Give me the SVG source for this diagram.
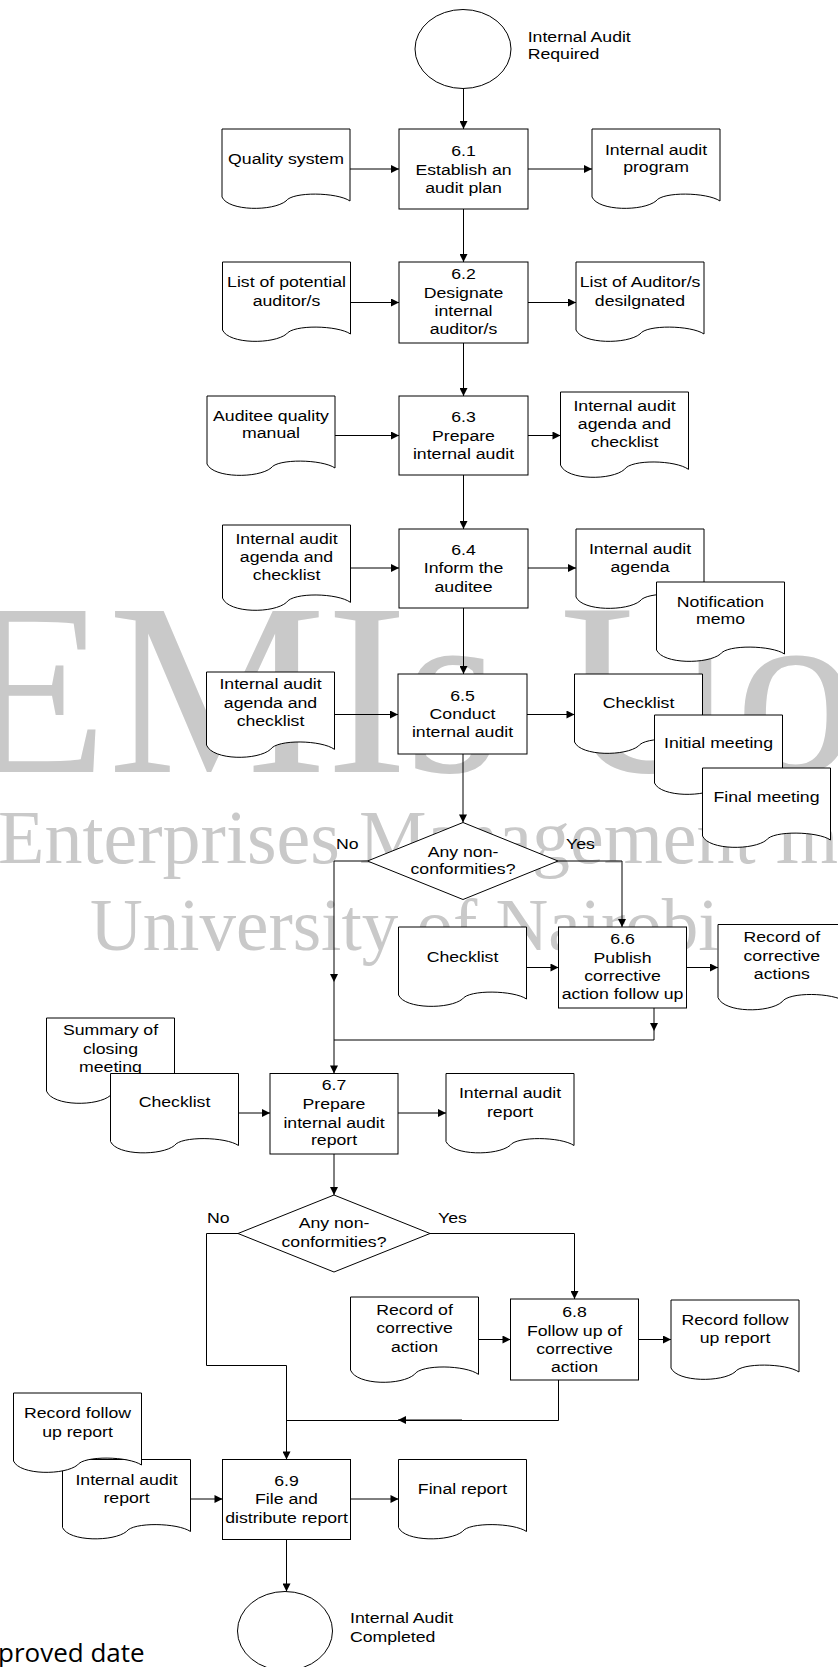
<svg xmlns="http://www.w3.org/2000/svg" width="838" height="1667" viewBox="0 0 838 1667">
<style>
.s{fill:#fff;stroke:#000;stroke-width:1}
.c{fill:none;stroke:#000;stroke-width:1}
.t{font-family:"Liberation Sans",Arial,sans-serif;font-size:15.5px;fill:#000;text-anchor:middle}
.l{font-family:"Liberation Sans",Arial,sans-serif;font-size:15.5px;fill:#000;text-anchor:start}
.wm{font-family:"Liberation Serif","Times New Roman",serif;fill:#c9c9c9}
.ft{font-family:"Open Sans","Noto Sans",sans-serif;font-size:26px;fill:#000}
</style>
<defs>
<marker id="a" viewBox="0 0 10 10" refX="10" refY="5" markerWidth="9" markerHeight="8" markerUnits="userSpaceOnUse" orient="auto"><path d="M0,0 L10,5 L0,10 z" fill="#000"/></marker>
</defs>
<rect width="838" height="1667" fill="#fff"/>
<g id="watermark">
<text class="wm" font-size="245" y="772" x="-42 108 326 405 500 560 735">EMIs Uo</text>
<text class="wm" font-size="76" x="-2" y="863">Enterprises Management In</text>
<text class="wm" font-size="73" x="90" y="950">University of Nairobi</text>
</g>
<text class="ft" x="-2" y="1662">proved date</text>

<g id="connectors">
<path class="c" marker-end="url(#a)" d="M463.5,88.5 V129"/>
<path class="c" marker-end="url(#a)" d="M463.5,209 V262"/>
<path class="c" marker-end="url(#a)" d="M463.5,343 V396"/>
<path class="c" marker-end="url(#a)" d="M463.5,475 V529"/>
<path class="c" marker-end="url(#a)" d="M463.5,608 V674"/>
<path class="c" marker-end="url(#a)" d="M463,754 V822.5"/>
<path class="c" marker-end="url(#a)" d="M350,169 H399"/>
<path class="c" marker-end="url(#a)" d="M528,169 H592"/>
<path class="c" marker-end="url(#a)" d="M350.5,302.5 H399"/>
<path class="c" marker-end="url(#a)" d="M528,302.5 H576"/>
<path class="c" marker-end="url(#a)" d="M335,435.5 H399"/>
<path class="c" marker-end="url(#a)" d="M528,435.5 H560.5"/>
<path class="c" marker-end="url(#a)" d="M350.5,568 H399"/>
<path class="c" marker-end="url(#a)" d="M528,568 H576"/>
<path class="c" marker-end="url(#a)" d="M334.5,714.5 H398"/>
<path class="c" marker-end="url(#a)" d="M527,714.5 H574.5"/>
<path class="c" marker-end="url(#a)" d="M367.5,861 H334 V982"/>
<path class="c" marker-end="url(#a)" d="M334,982 V1073.5"/>
<path class="c" marker-end="url(#a)" d="M558,861 H622 V927"/>
<path class="c" marker-end="url(#a)" d="M526.5,967.5 H558.5"/>
<path class="c" marker-end="url(#a)" d="M686.5,967.5 H718"/>
<path class="c" marker-end="url(#a)" d="M654,1008 V1031"/>
<path class="c" d="M654,1031 V1040 H334"/>
<path class="c" marker-end="url(#a)" d="M238.5,1113 H270"/>
<path class="c" marker-end="url(#a)" d="M398,1113 H446"/>
<path class="c" marker-end="url(#a)" d="M334,1154 V1195"/>
<path class="c" marker-end="url(#a)" d="M238,1233.5 H206.5 V1365.5 H286.5 V1459.5"/>
<path class="c" marker-end="url(#a)" d="M430,1233.5 H574.5 V1299"/>
<path class="c" marker-end="url(#a)" d="M478.5,1339.5 H510.5"/>
<path class="c" marker-end="url(#a)" d="M638.5,1339.5 H671"/>
<path class="c" d="M558.5,1380 V1420.5 H286.5"/>
<path class="c" marker-end="url(#a)" d="M462,1420 H398"/>
<path class="c" marker-end="url(#a)" d="M190.5,1499 H222.5"/>
<path class="c" marker-end="url(#a)" d="M350.5,1499 H398.5"/>
<path class="c" marker-end="url(#a)" d="M286.5,1539.5 V1591.5"/>
</g>

<g id="start">
<ellipse class="s" cx="463" cy="49" rx="48" ry="39.5"/>
<g transform="translate(527.7,0) scale(1.14,1)"><text class="l" x="0" y="41.7">Internal Audit<tspan x="0" y="59.3">Required</tspan></text></g>
</g>

<g id="p61">
<rect class="s" x="399" y="129" width="129" height="80"/>
<g transform="translate(463.5,0) scale(1.14,1)"><text class="t" x="0" y="156">6.1<tspan x="0" y="175">Establish an</tspan><tspan x="0" y="193.5">audit plan</tspan></text></g>
</g>
<g id="doc_qs">
<path class="s" d="M222,129 h128 v72 c-12.8,-8.8 -57.6,-9.6 -64,0 c-12.8,10.4 -57.6,10.4 -64,-4 z"/>
<g transform="translate(286,0) scale(1.14,1)"><text class="t" x="0" y="164">Quality system</text></g>
</g>
<g id="doc_prog">
<path class="s" d="M592,129 h128 v72 c-12.8,-8.8 -57.6,-9.6 -64,0 c-12.8,10.4 -57.6,10.4 -64,-4 z"/>
<g transform="translate(656,0) scale(1.14,1)"><text class="t" x="0" y="155">Internal audit<tspan x="0" y="172.5">program</tspan></text></g>
</g>

<g id="p62">
<rect class="s" x="399" y="262" width="129" height="81"/>
<g transform="translate(463.5,0) scale(1.14,1)"><text class="t" x="0" y="279.3">6.2<tspan x="0" y="297.7">Designate</tspan><tspan x="0" y="316">internal</tspan><tspan x="0" y="334.3">auditor/s</tspan></text></g>
</g>
<g id="doc_lpa">
<path class="s" d="M222.5,262 h128 v72 c-12.8,-8.8 -57.6,-9.6 -64,0 c-12.8,10.4 -57.6,10.4 -64,-4 z"/>
<g transform="translate(286.5,0) scale(1.14,1)"><text class="t" x="0" y="287.3">List of potential<tspan x="0" y="305.7">auditor/s</tspan></text></g>
</g>
<g id="doc_lad">
<path class="s" d="M576,262 h128 v72 c-12.8,-8.8 -57.6,-9.6 -64,0 c-12.8,10.4 -57.6,10.4 -64,-4 z"/>
<g transform="translate(640,0) scale(1.14,1)"><text class="t" x="0" y="287.3">List of Auditor/s<tspan x="0" y="305.7">desilgnated</tspan></text></g>
</g>

<g id="p63">
<rect class="s" x="399" y="396" width="129" height="79"/>
<g transform="translate(463.5,0) scale(1.14,1)"><text class="t" x="0" y="421.7">6.3<tspan x="0" y="440.7">Prepare</tspan><tspan x="0" y="458.7">internal audit</tspan></text></g>
</g>
<g id="doc_aqm">
<path class="s" d="M207,396 h128 v72 c-12.8,-8.8 -57.6,-9.6 -64,0 c-12.8,10.4 -57.6,10.4 -64,-4 z"/>
<g transform="translate(271,0) scale(1.14,1)"><text class="t" x="0" y="420.7">Auditee quality<tspan x="0" y="438.3">manual</tspan></text></g>
</g>
<g id="doc_iaac3">
<path class="s" d="M560.5,392 h128 v77.4 c-12.8,-9.46 -57.6,-10.32 -64,0 c-12.8,11.18 -57.6,11.18 -64,-4.3 z"/>
<g transform="translate(624.5,0) scale(1.14,1)"><text class="t" x="0" y="410.7">Internal audit<tspan x="0" y="428.7">agenda and</tspan><tspan x="0" y="447">checklist</tspan></text></g>
</g>

<g id="p64">
<rect class="s" x="399" y="529" width="129" height="79"/>
<g transform="translate(463.5,0) scale(1.14,1)"><text class="t" x="0" y="554.7">6.4<tspan x="0" y="573.3">Inform the</tspan><tspan x="0" y="591.7">auditee</tspan></text></g>
</g>
<g id="doc_iaac4">
<path class="s" d="M222.5,525 h128 v77.4 c-12.8,-9.46 -57.6,-10.32 -64,0 c-12.8,11.18 -57.6,11.18 -64,-4.3 z"/>
<g transform="translate(286.5,0) scale(1.14,1)"><text class="t" x="0" y="544">Internal audit<tspan x="0" y="562">agenda and</tspan><tspan x="0" y="580">checklist</tspan></text></g>
</g>
<g id="doc_iaa">
<path class="s" d="M576,529 h128 v72 c-12.8,-8.8 -57.6,-9.6 -64,0 c-12.8,10.4 -57.6,10.4 -64,-4 z"/>
<g transform="translate(640,0) scale(1.14,1)"><text class="t" x="0" y="554">Internal audit<tspan x="0" y="571.7">agenda</tspan></text></g>
</g>
<g id="doc_memo">
<path class="s" d="M656.5,582 h128 v72 c-12.8,-8.8 -57.6,-9.6 -64,0 c-12.8,10.4 -57.6,10.4 -64,-4 z"/>
<g transform="translate(720.5,0) scale(1.14,1)"><text class="t" x="0" y="606.7">Notification<tspan x="0" y="624.3">memo</tspan></text></g>
</g>

<g id="p65">
<rect class="s" x="398" y="674" width="129" height="80"/>
<g transform="translate(462.5,0) scale(1.14,1)"><text class="t" x="0" y="700.7">6.5<tspan x="0" y="719.3">Conduct</tspan><tspan x="0" y="737.3">internal audit</tspan></text></g>
</g>
<g id="doc_iaac5">
<path class="s" d="M206.5,672 h128 v77.4 c-12.8,-9.46 -57.6,-10.32 -64,0 c-12.8,11.18 -57.6,11.18 -64,-4.3 z"/>
<g transform="translate(270.5,0) scale(1.14,1)"><text class="t" x="0" y="689.3">Internal audit<tspan x="0" y="708.3">agenda and</tspan><tspan x="0" y="726">checklist</tspan></text></g>
</g>
<g id="doc_chk5">
<path class="s" d="M574.5,674 h128 v72 c-12.8,-8.8 -57.6,-9.6 -64,0 c-12.8,10.4 -57.6,10.4 -64,-4 z"/>
<g transform="translate(638.5,0) scale(1.14,1)"><text class="t" x="0" y="708.3">Checklist</text></g>
</g>
<g id="doc_init">
<path class="s" d="M654.5,715 h128 v72 c-12.8,-8.8 -57.6,-9.6 -64,0 c-12.8,10.4 -57.6,10.4 -64,-4 z"/>
<g transform="translate(718.5,0) scale(1.14,1)"><text class="t" x="0" y="748.3">Initial meeting</text></g>
</g>
<g id="doc_final">
<path class="s" d="M702.5,768 h128 v72 c-12.8,-8.8 -57.6,-9.6 -64,0 c-12.8,10.4 -57.6,10.4 -64,-4 z"/>
<g transform="translate(766.5,0) scale(1.14,1)"><text class="t" x="0" y="801.7">Final meeting</text></g>
</g>

<g id="d1">
<path class="s" d="M463,822.5 L558,861 L463,899.5 L367.5,861 z"/>
<g transform="translate(463,0) scale(1.14,1)"><text class="t" x="0" y="856.7">Any non-<tspan x="0" y="874.3">conformities?</tspan></text></g>
<g transform="translate(336,0) scale(1.14,1)"><text class="l" x="0" y="849">No</text></g>
<g transform="translate(566,0) scale(1.14,1)"><text class="l" x="0" y="849">Yes</text></g>
</g>

<g id="p66">
<rect class="s" x="558.5" y="927" width="128" height="81"/>
<g transform="translate(622.5,0) scale(1.14,1)"><text class="t" x="0" y="944.3">6.6<tspan x="0" y="962.7">Publish</tspan><tspan x="0" y="981.3">corrective</tspan><tspan x="0" y="999.5">action follow up</tspan></text></g>
</g>
<g id="doc_chk6">
<path class="s" d="M398.5,927 h128 v72 c-12.8,-8.8 -57.6,-9.6 -64,0 c-12.8,10.4 -57.6,10.4 -64,-4 z"/>
<g transform="translate(462.5,0) scale(1.14,1)"><text class="t" x="0" y="961.7">Checklist</text></g>
</g>
<g id="doc_rca">
<path class="s" d="M718,924.5 h128 v77.4 c-12.8,-9.46 -57.6,-10.32 -64,0 c-12.8,11.18 -57.6,11.18 -64,-4.3 z"/>
<g transform="translate(781.8,0) scale(1.14,1)"><text class="t" x="0" y="942.3">Record of<tspan x="0" y="960.7">corrective</tspan><tspan x="0" y="979">actions</tspan></text></g>
</g>

<g id="doc_sum">
<path class="s" d="M46.5,1018 h128 v77.4 c-12.8,-9.46 -57.6,-10.32 -64,0 c-12.8,11.18 -57.6,11.18 -64,-4.3 z"/>
<g transform="translate(110.5,0) scale(1.14,1)"><text class="t" x="0" y="1035">Summary of<tspan x="0" y="1054">closing</tspan><tspan x="0" y="1072.3">meeting</tspan></text></g>
</g>
<g id="doc_chk7">
<path class="s" d="M110.5,1073.5 h128 v72 c-12.8,-8.8 -57.6,-9.6 -64,0 c-12.8,10.4 -57.6,10.4 -64,-4 z"/>
<g transform="translate(174.5,0) scale(1.14,1)"><text class="t" x="0" y="1107.3">Checklist</text></g>
</g>
<g id="p67">
<rect class="s" x="270" y="1073.5" width="128" height="80.5"/>
<g transform="translate(334,0) scale(1.14,1)"><text class="t" x="0" y="1090">6.7<tspan x="0" y="1109.3">Prepare</tspan><tspan x="0" y="1127.7">internal audit</tspan><tspan x="0" y="1145.5">report</tspan></text></g>
</g>
<g id="doc_iar7">
<path class="s" d="M446,1073.5 h128 v72 c-12.8,-8.8 -57.6,-9.6 -64,0 c-12.8,10.4 -57.6,10.4 -64,-4 z"/>
<g transform="translate(510,0) scale(1.14,1)"><text class="t" x="0" y="1098.3">Internal audit<tspan x="0" y="1116.7">report</tspan></text></g>
</g>

<g id="d2">
<path class="s" d="M334,1195 L430,1233.5 L334,1272 L238,1233.5 z"/>
<g transform="translate(334,0) scale(1.14,1)"><text class="t" x="0" y="1228.3">Any non-<tspan x="0" y="1247.3">conformities?</tspan></text></g>
<g transform="translate(207,0) scale(1.14,1)"><text class="l" x="0" y="1222.7">No</text></g>
<g transform="translate(438,0) scale(1.14,1)"><text class="l" x="0" y="1222.7">Yes</text></g>
</g>

<g id="p68">
<rect class="s" x="510.5" y="1299" width="128" height="81"/>
<g transform="translate(574.5,0) scale(1.14,1)"><text class="t" x="0" y="1316.7">6.8<tspan x="0" y="1335.7">Follow up of</tspan><tspan x="0" y="1354">corrective</tspan><tspan x="0" y="1371.7">action</tspan></text></g>
</g>
<g id="doc_rcact">
<path class="s" d="M350.5,1297 h128 v77.4 c-12.8,-9.46 -57.6,-10.32 -64,0 c-12.8,11.18 -57.6,11.18 -64,-4.3 z"/>
<g transform="translate(414.5,0) scale(1.14,1)"><text class="t" x="0" y="1315">Record of<tspan x="0" y="1333.3">corrective</tspan><tspan x="0" y="1351.7">action</tspan></text></g>
</g>
<g id="doc_rfu8">
<path class="s" d="M671,1300 h128 v72 c-12.8,-8.8 -57.6,-9.6 -64,0 c-12.8,10.4 -57.6,10.4 -64,-4 z"/>
<g transform="translate(735,0) scale(1.14,1)"><text class="t" x="0" y="1325">Record follow<tspan x="0" y="1343.3">up report</tspan></text></g>
</g>

<g id="doc_iar9">
<path class="s" d="M62.5,1459.5 h128 v72 c-12.8,-8.8 -57.6,-9.6 -64,0 c-12.8,10.4 -57.6,10.4 -64,-4 z"/>
<g transform="translate(126.5,0) scale(1.14,1)"><text class="t" x="0" y="1485">Internal audit<tspan x="0" y="1503.3">report</tspan></text></g>
</g>
<g id="doc_rfu9">
<path class="s" d="M13.5,1393 h128 v72 c-12.8,-8.8 -57.6,-9.6 -64,0 c-12.8,10.4 -57.6,10.4 -64,-4 z"/>
<g transform="translate(77.5,0) scale(1.14,1)"><text class="t" x="0" y="1417.7">Record follow<tspan x="0" y="1436.7">up report</tspan></text></g>
</g>
<g id="p69">
<rect class="s" x="222.5" y="1459.5" width="128" height="80"/>
<g transform="translate(286.5,0) scale(1.14,1)"><text class="t" x="0" y="1486">6.9<tspan x="0" y="1504">File and</tspan><tspan x="0" y="1522.7">distribute report</tspan></text></g>
</g>
<g id="doc_final9">
<path class="s" d="M398.5,1459.5 h128 v72 c-12.8,-8.8 -57.6,-9.6 -64,0 c-12.8,10.4 -57.6,10.4 -64,-4 z"/>
<g transform="translate(462.5,0) scale(1.14,1)"><text class="t" x="0" y="1494">Final report</text></g>
</g>

<g id="end">
<ellipse class="s" cx="285" cy="1631" rx="47.5" ry="39.5"/>
<g transform="translate(350,0) scale(1.14,1)"><text class="l" x="0" y="1623.3">Internal Audit<tspan x="0" y="1642.3">Completed</tspan></text></g>
</g>
</svg>
